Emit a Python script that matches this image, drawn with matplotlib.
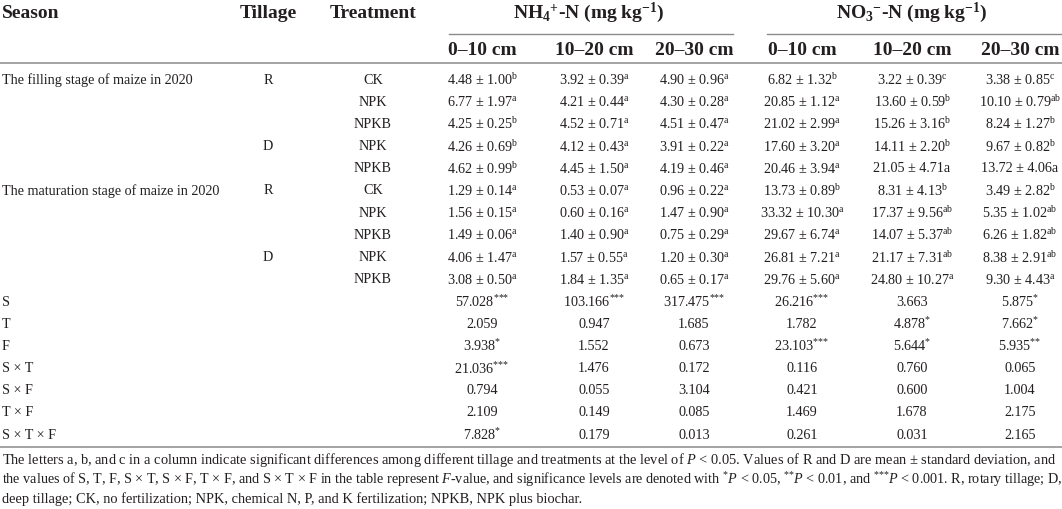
import matplotlib
matplotlib.use("Agg")
import matplotlib.pyplot as plt

plt.rcParams["font.family"] = ["Liberation Serif", "DejaVu Serif"]
plt.rcParams["mathtext.fontset"] = "custom"
plt.rcParams["mathtext.rm"] = "Liberation Serif"
plt.rcParams["mathtext.it"] = "Liberation Serif:italic"
plt.rcParams["mathtext.bf"] = "Liberation Serif:bold"

# ---- table data ----
seasons = ["The filling stage of maize in 2020", "", "", "", "",
           "The maturation stage of maize in 2020", "", "", "", ""]
tillage = ["R", "", "", "D", "", "R", "", "", "D", ""]
treatments = ["CK", "NPK", "NPKB", "NPK", "NPKB", "CK", "NPK", "NPKB", "NPK", "NPKB"]
depths = ["0–10 cm", "10–20 cm", "20–30 cm"]

nh4_0_10 = [4.48, 6.77, 4.25, 4.26, 4.62, 1.29, 1.56, 1.49, 4.06, 3.08]
nh4_0_10_sd = [1.00, 1.97, 0.25, 0.69, 0.99, 0.14, 0.15, 0.06, 1.47, 0.50]
nh4_0_10_sig = ["b", "a", "b", "b", "b", "a", "a", "a", "a", "a"]

nh4_10_20 = [3.92, 4.21, 4.52, 4.12, 4.45, 0.53, 0.60, 1.40, 1.57, 1.84]
nh4_10_20_sd = [0.39, 0.44, 0.71, 0.43, 1.50, 0.07, 0.16, 0.90, 0.55, 1.35]
nh4_10_20_sig = ["a", "a", "a", "a", "a", "a", "a", "a", "a", "a"]

nh4_20_30 = [4.90, 4.30, 4.51, 3.91, 4.19, 0.96, 1.47, 0.75, 1.20, 0.65]
nh4_20_30_sd = [0.96, 0.28, 0.47, 0.22, 0.46, 0.22, 0.90, 0.29, 0.30, 0.17]
nh4_20_30_sig = ["a", "a", "a", "a", "a", "a", "a", "a", "a", "a"]

no3_0_10 = [6.82, 20.85, 21.02, 17.60, 20.46, 13.73, 33.32, 29.67, 26.81, 29.76]
no3_0_10_sd = [1.32, 1.12, 2.99, 3.20, 3.94, 0.89, 10.30, 6.74, 7.21, 5.60]
no3_0_10_sig = ["b", "a", "a", "a", "a", "b", "a", "a", "a", "a"]

no3_10_20 = [3.22, 13.60, 15.26, 14.11, 21.05, 8.31, 17.37, 14.07, 21.17, 24.80]
no3_10_20_sd = [0.39, 0.59, 3.16, 2.20, 4.71, 4.13, 9.56, 5.37, 7.31, 10.27]
no3_10_20_sig = ["c", "b", "b", "b", "a", "b", "ab", "ab", "ab", "a"]

no3_20_30 = [3.38, 10.10, 8.24, 9.67, 13.72, 3.49, 5.35, 6.26, 8.38, 9.30]
no3_20_30_sd = [0.85, 0.79, 1.27, 0.82, 4.06, 2.82, 1.02, 1.82, 2.91, 4.43]
no3_20_30_sig = ["c", "ab", "b", "b", "a", "b", "ab", "ab", "ab", "a"]

# letters printed inline (not raised) in the source table: (row, column)
inline_letters = [(4, 4), (4, 5)]

effects = ["S", "T", "F", "S × T", "S × F", "T × F", "S × T × F"]
f_nh4_0_10 = ["57.028", "2.059", "3.938", "21.036", "0.794", "2.109", "7.828"]
f_nh4_0_10_sig = [3, 0, 1, 3, 0, 0, 1]
f_nh4_10_20 = ["103.166", "0.947", "1.552", "1.476", "0.055", "0.149", "0.179"]
f_nh4_10_20_sig = [3, 0, 0, 0, 0, 0, 0]
f_nh4_20_30 = ["317.475", "1.685", "0.673", "0.172", "3.104", "0.085", "0.013"]
f_nh4_20_30_sig = [3, 0, 0, 0, 0, 0, 0]
f_no3_0_10 = ["26.216", "1.782", "23.103", "0.116", "0.421", "1.469", "0.261"]
f_no3_0_10_sig = [3, 0, 3, 0, 0, 0, 0]
f_no3_10_20 = ["3.663", "4.878", "5.644", "0.760", "0.600", "1.678", "0.031"]
f_no3_10_20_sig = [0, 1, 1, 0, 0, 0, 0]
f_no3_20_30 = ["5.875", "7.662", "5.935", "0.065", "1.004", "2.175", "2.165"]
f_no3_20_30_sig = [1, 1, 2, 0, 0, 0, 0]


def stars(n):
    # braces keep mathtext from spacing '*' like a binary operator
    return "$^{" + "{*}" * n + "}$" if n else ""


footnote = [
    "The letters a, b, and c in a column indicate significant differences among different tillage and "
    "treatments at the level of $P$ < 0.05. Values of R and D are mean ± standard deviation, and",
    "the values of S, T, F, S × T, S × F, T × F, and S × T × F in the table represent $F$-value, and "
    "significance levels are denoted with " + stars(1) + "$P$ < 0.05, " + stars(2) + "$P$ < 0.01, and "
    + stars(3) + "$P$ < 0.001. R, rotary tillage; D,",
    "deep tillage; CK, no fertilization; NPK, chemical N, P, and K fertilization; NPKB, NPK plus biochar.",
]

means = [nh4_0_10, nh4_10_20, nh4_20_30, no3_0_10, no3_10_20, no3_20_30]
sds = [nh4_0_10_sd, nh4_10_20_sd, nh4_20_30_sd, no3_0_10_sd, no3_10_20_sd, no3_20_30_sd]
sigs = [nh4_0_10_sig, nh4_10_20_sig, nh4_20_30_sig, no3_0_10_sig, no3_10_20_sig, no3_20_30_sig]
fvals = [f_nh4_0_10, f_nh4_10_20, f_nh4_20_30, f_no3_0_10, f_no3_10_20, f_no3_20_30]
fsigs = [f_nh4_0_10_sig, f_nh4_10_20_sig, f_nh4_20_30_sig,
         f_no3_0_10_sig, f_no3_10_20_sig, f_no3_20_30_sig]

# ---- layout (pixel coordinates) ----
W, H = 1062, 509
col_x = [482, 594, 694, 802, 912, 1020]
x_season, x_tillage, x_treat = 2, 268, 373
y_first, dy = 80, 22.2
ink = "#231f20"
rule = "#8a8a8a"
hdr_size, body_size, note_size = 14, 10.2, 10.4

fig = plt.figure(figsize=(W / 100, H / 100), dpi=100)
ax = fig.add_axes([0, 0, 1, 1])
ax.set_xlim(0, W)
ax.set_ylim(H, 0)
ax.axis("off")

# header
hdr = dict(fontsize=hdr_size, fontweight="bold", color=ink, va="center")
ax.text(x_season, 13, "Season", **hdr)
ax.text(x_tillage, 13, "Tillage", ha="center", **hdr)
ax.text(x_treat, 13, "Treatment", ha="center", **hdr)
ax.text(589, 13, r"NH$_{\mathbf{4}}$$^{\mathbf{+}}$-N (mg kg$^{\mathbf{-1}}$)", ha="center", **hdr)
ax.text(912, 13, r"NO$_{\mathbf{3}}$$^{\mathbf{-}}$-N (mg kg$^{\mathbf{-1}}$)", ha="center", **hdr)
ax.plot([449, 733], [34, 34], color=rule, lw=1)
ax.plot([767, W], [34, 34], color=rule, lw=1)
for i, x in enumerate(col_x):
    ax.text(x, 50, depths[i % 3], ha="center", **hdr)
ax.plot([0, W], [63, 63], color=rule, lw=1.1)

# body rows
body = dict(fontsize=body_size, color=ink, va="center")
for r in range(len(treatments)):
    y = y_first + r * dy
    if seasons[r]:
        ax.text(x_season, y, seasons[r], **body)
    if tillage[r]:
        ax.text(x_tillage, y, tillage[r], ha="center", **body)
    ax.text(x_treat, y, treatments[r], ha="center", **body)
    for c, x in enumerate(col_x):
        base = f"{means[c][r]:.2f} ± {sds[c][r]:.2f}"
        if (r, c) in inline_letters:
            label = base + sigs[c][r]
        else:
            label = base + r"$^{\mathrm{" + sigs[c][r] + "}}$"
        ax.text(x, y, label, ha="center", **body)

n_rows = len(treatments)
for k in range(len(effects)):
    y = y_first + (n_rows + k) * dy
    ax.text(x_season, y, effects[k], **body)
    for c, x in enumerate(col_x):
        ax.text(x, y, fvals[c][k] + stars(fsigs[c][k]), ha="center", **body)

y_last = y_first + (n_rows + len(effects) - 1) * dy
ax.plot([0, W], [y_last + 12, y_last + 12], color=rule, lw=1.1)

# footnote lines, each shrunk if needed so it stays inside the page width
renderer = fig.canvas.get_renderer()
for i, line in enumerate(footnote):
    t = ax.text(2, y_last + 25 + i * 19.5, line, fontsize=note_size, color=ink, va="center")
    width = t.get_window_extent(renderer).width
    if width > W - 6:
        t.set_fontsize(note_size * (W - 6) / width)

fig.savefig("out.png", dpi=100)
